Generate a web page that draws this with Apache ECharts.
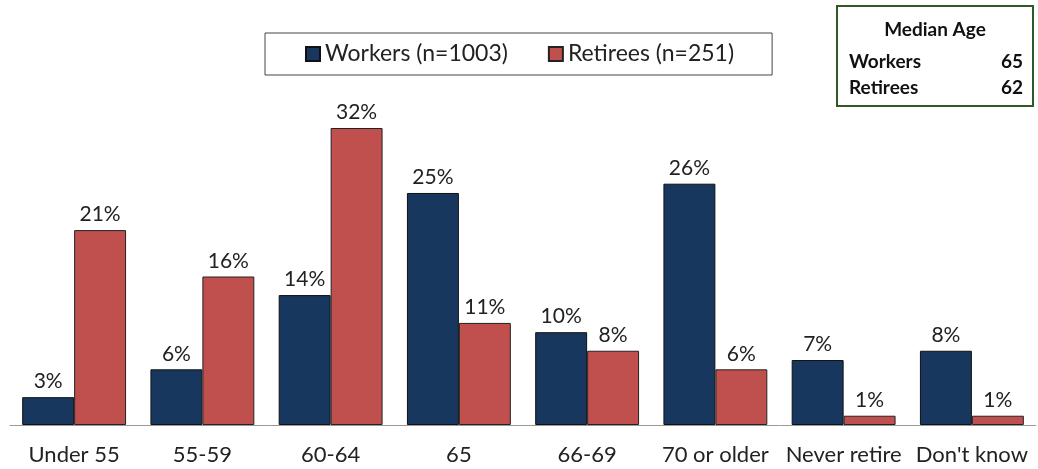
<!DOCTYPE html>
<html>
<head>
<meta charset="utf-8">
<script src="https://cdn.jsdelivr.net/npm/echarts@6/dist/echarts.min.js"></script>
<style>
  html, body { margin: 0; padding: 0; background: #fff; }
  #chart { width: 1038px; height: 469px; }
</style>
</head>
<body>
<div id="chart"></div>
<script>
const categories = ['Under 55', '55-59', '60-64', '65', '66-69', '70 or older', 'Never retire', "Don't know"]
const workers = [3, 6, 14, 25, 10, 26, 7, 8]
const retirees = [21, 16, 32, 11, 8, 6, 1, 1]
const medianRows = [['Workers', '65'], ['Retirees', '62']]

const font = 'Lato, "Open Sans", sans-serif'
const chart = echarts.init(document.getElementById('chart'))

const labelStyle = {
  show: true,
  position: 'top',
  distance: 5,
  formatter: '{c}%',
  fontFamily: font,
  fontSize: 21,
  color: '#222'
}

chart.setOption({
  animation: false,
  textStyle: { fontFamily: font },
  legend: {
    data: ['Workers (n=1003)', 'Retirees (n=251)'],
    icon: 'rect',
    left: 265,
    top: 33,
    padding: [9, 38, 9, 40],
    borderColor: '#444',
    borderWidth: 1,
    itemWidth: 14,
    itemHeight: 14,
    itemGap: 40,
    textStyle: { fontFamily: font, fontSize: 23, lineHeight: 24, color: '#222' }
  },
  grid: { left: 10, right: 2, top: 128, bottom: 44 },
  xAxis: {
    type: 'category',
    data: categories,
    axisTick: { show: false },
    axisLine: { lineStyle: { color: '#999', width: 1 } },
    axisLabel: { fontFamily: font, fontSize: 22, color: '#222', margin: 19, interval: 0 }
  },
  yAxis: {
    type: 'value',
    min: 0,
    max: 32,
    show: false,
    splitLine: { show: false }
  },
  series: [
    {
      name: 'Workers (n=1003)',
      type: 'bar',
      data: workers,
      barGap: '0%',
      barCategoryGap: '19%',
      itemStyle: { color: '#17375E', borderColor: '#111', borderWidth: 1 },
      label: labelStyle
    },
    {
      name: 'Retirees (n=251)',
      type: 'bar',
      data: retirees,
      itemStyle: { color: '#C0504D', borderColor: '#222', borderWidth: 1 },
      label: labelStyle
    }
  ],
  graphic: [
    {
      type: 'group',
      left: 836,
      top: 5,
      children: [
        {
          type: 'rect',
          shape: { x: 0, y: 0, width: 196, height: 100 },
          style: { fill: '#fff', stroke: '#2F5A27', lineWidth: 2 }
        },
        {
          type: 'text',
          x: 98,
          y: 24,
          style: { text: 'Median Age', fontFamily: font, fontWeight: 'bold', fontSize: 19, fill: '#111', align: 'center', verticalAlign: 'middle' }
        },
        ...medianRows.flatMap((row, i) => [
          {
            type: 'text',
            x: 12,
            y: 56 + i * 26,
            style: { text: row[0], fontFamily: font, fontWeight: 'bold', fontSize: 19, fill: '#111', align: 'left', verticalAlign: 'middle' }
          },
          {
            type: 'text',
            x: 186,
            y: 56 + i * 26,
            style: { text: row[1], fontFamily: font, fontWeight: 'bold', fontSize: 19, fill: '#111', align: 'right', verticalAlign: 'middle' }
          }
        ])
      ]
    }
  ]
})
</script>
</body>
</html>
